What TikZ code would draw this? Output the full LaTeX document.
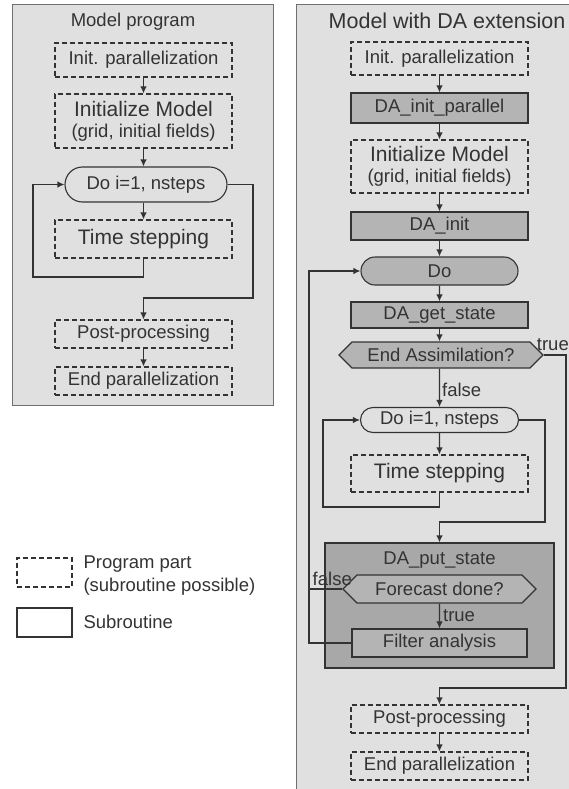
\documentclass[tikz,border=0pt]{standalone}
\usepackage{fontspec}
\setmainfont{Liberation Sans}
\usepackage{tikz}
\usetikzlibrary{shapes.misc}
\usetikzlibrary{shapes.symbols}
\usetikzlibrary{arrows.meta}

\definecolor{panelgray}{HTML}{E0E0E0}
\definecolor{subgray}{HTML}{B4B4B4}
\definecolor{putgray}{HTML}{A8A8A8}
\definecolor{linegray}{HTML}{333333}
\definecolor{framegray}{HTML}{707070}

\tikzset{
  flow/.style={draw=linegray, line width=1.2pt},
  arr/.style={flow, -{Latex[length=7pt,width=6.5pt]}},
  progpart/.style={draw=linegray, line width=1.1pt, dash pattern=on 5pt off 3pt,
    minimum width=177pt, inner sep=0pt, align=center},
  subr/.style={draw=linegray, line width=1.1pt, fill=subgray,
    minimum width=177pt, inner sep=0pt},
  doloop/.style={rounded rectangle, draw=linegray, line width=1.1pt, inner sep=0pt},
  query/.style={signal, signal to=east and west, draw=linegray, line width=1.1pt,
    fill=subgray, inner sep=0pt},
  panel/.style={draw=framegray, line width=1pt, fill=panelgray},
  big/.style={font=\fontsize{21}{24}\selectfont},
}

\begin{document}
\begin{tikzpicture}[x=1pt,y=-1pt,font=\fontsize{18.5}{21}\selectfont,text=linegray]
    \useasboundingbox (0,0) rectangle (569,789);
    % panels
    \draw[panel] (12,5) rectangle (273,405);
    \draw[panel] (296,5) rectangle (575,795);
    \node (ltitle) at (133,22) {Model program};
    \node[font=\fontsize{21.5}{24}\selectfont] (rtitle) at (447,21) {Model with DA extension};

    % model program
    \node[progpart, minimum height=34pt] (linit) at (143.5,60) {Init. parallelization};
    \node[progpart, minimum height=54pt] (lmodel) at (143.5,121)
      {{\fontsize{21}{24}\selectfont Initialize Model}\\(grid, initial fields)};
    \node[doloop, minimum width=162pt, minimum height=35pt] (ldo) at (146,184.5) {Do i=1, nsteps};
    \node[progpart, big, minimum height=38pt] (ltime) at (143.5,239) {Time stepping};
    \node[progpart, minimum height=28pt] (lpost) at (143.5,334) {Post-processing};
    \node[progpart, minimum height=28pt] (lend) at (143.5,381) {End parallelization};
    \draw[arr] (linit) -- (lmodel);
    \draw[arr] (lmodel) -- (lmodel|-ldo.north);
    \draw[arr] (lmodel|-ldo.south) -- (ltime);
    \draw[arr] (ltime.south) |- (33,277) |- (ldo.west);
    \draw[arr] (ldo.east) -| (253,298) -| (lpost.north);
    \draw[arr] (lpost) -- (lend);

    % model with DA extension
    \node[progpart, minimum height=33pt] (rinit) at (439.5,58.5) {Init. parallelization};
    \node[subr, minimum height=30pt] (rinitpar) at (439.5,108) {DA\_init\_parallel};
    \node[progpart, minimum height=53pt] (rmodel) at (439.5,166.5)
      {{\fontsize{21}{24}\selectfont Initialize Model}\\(grid, initial fields)};
    \node[subr, minimum height=28pt] (rdainit) at (439.5,226) {DA\_init};
    \node[doloop, fill=subgray, minimum width=157pt, minimum height=28pt] (rdo) at (439.5,271) {Do};
    \node[subr, minimum height=26pt] (rget) at (439.5,315) {DA\_get\_state};
    \node[query, minimum width=204pt, minimum height=26pt] (rendass) at (441,355) {End Assimilation?};
    \node[doloop, minimum width=158pt, minimum height=25pt] (rdoi) at (439.5,420) {Do i=1, nsteps};
    \node[progpart, big, minimum height=37pt] (rtime) at (439.5,473.5) {Time stepping};
    \node[draw=linegray, line width=1.1pt, fill=putgray, minimum width=229pt,
      minimum height=125pt, inner sep=0pt] (rput) at (439.5,605.5) {};
    \node (rputlbl) at (439.5,560) {DA\_put\_state};
    \node[query, minimum width=193pt, minimum height=28pt] (rfore) at (439.5,589) {Forecast done?};
    \node[subr, minimum width=175pt, minimum height=28pt] (rfilter) at (439.5,643) {Filter analysis};
    \node[progpart, minimum height=28pt] (rpost) at (439.5,719) {Post-processing};
    \node[progpart, minimum height=28pt] (rend) at (439.5,766) {End parallelization};

    \draw[arr] (rinit) -- (rinitpar);
    \draw[arr] (rinitpar) -- (rmodel);
    \draw[arr] (rmodel) -- (rdainit);
    \draw[arr] (rdainit) -- (rdo);
    \draw[arr] (rdo) -- (rget);
    \draw[arr] (rget) -- (rget|-rendass.north);
    \draw[arr] (rget|-rendass.south) -- node[right, pos=0.55, inner sep=2pt] {false} (rdoi);
    \draw[arr] (rendass.east) -| (566,688) -| (rpost.north);
    \node[anchor=south east, inner sep=0pt] (rtruelbl) at (569,351) {true};
    \draw[arr] (rdoi) -- (rtime);
    \draw[arr] (rtime.south) |- (323,507) |- (rdoi.west);
    \draw[arr] (rdoi.east) -| (545,522) -| (rput.north);
    \draw[flow] (rfore.west) -- node[above, pos=0.3, inner sep=3pt] {false} (309,589);
    \draw[arr] (rfore) -- node[right, inner sep=3pt] {true} (rfilter);
    \draw[arr] (rfilter.west) -- (309,643) |- (rdo.west);
    \draw[arr] (rpost) -- (rend);

    % legend
    \node[progpart, minimum width=55pt, minimum height=29pt] (legprog) at (44.5,572.5) {};
    \node[anchor=west, align=left, font=\fontsize{18.5}{23}\selectfont] (legprogtxt) at (80,576)
      {Program part\\(subroutine possible)};
    \node[draw=linegray, line width=1.1pt, minimum width=55pt, minimum height=29pt] (legsub) at (44.5,622.5) {};
    \node[anchor=west] (legsubtxt) at (80,622) {Subroutine};
\end{tikzpicture}
\end{document}
